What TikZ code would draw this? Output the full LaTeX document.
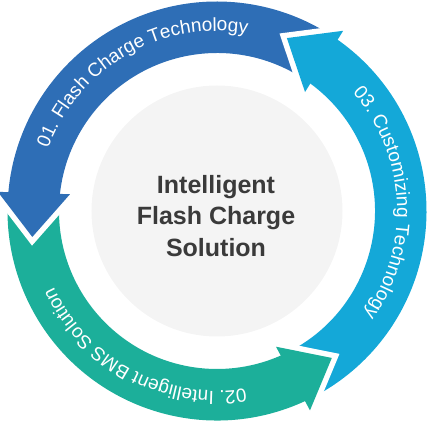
\documentclass[tikz,border=0pt]{standalone}
\usepackage{fontspec}
\setmainfont{Liberation Sans}
\usetikzlibrary{decorations.text}
\definecolor{cblue}{RGB}{46,110,182}
\definecolor{ccyan}{RGB}{20,168,216}
\definecolor{cgreen}{RGB}{28,175,154}
\definecolor{cgray}{RGB}{244,244,244}
\definecolor{ctext}{RGB}{58,58,58}
\newcommand{\bandfont}{\fontsize{19}{19}\selectfont}
\begin{document}
\begin{tikzpicture}[x=1pt,y=1pt,
  gapline/.style={white, line width=11pt, line join=miter, miter limit=10},
  bandtext/.style={decorate, decoration={text along path, text align=center, text color=white}}]
\useasboundingbox (-217,-211) rectangle (214,211);
% centre disc
\fill[cgray] (0,0) circle (125.5);
% bands
\fill[cblue]  (55.5:158) arc[start angle=55.5, end angle=175.5, radius=158] -- (175.5:209.5) arc[start angle=175.5, end angle=55.5, radius=209.5] -- cycle;
\fill[cgreen] (175.5:158) arc[start angle=175.5, end angle=295.5, radius=158] -- (295.5:209.5) arc[start angle=295.5, end angle=175.5, radius=209.5] -- cycle;
\fill[ccyan]  (-64.5:158) arc[start angle=-64.5, end angle=55.5, radius=158] -- (55.5:209.5) arc[start angle=55.5, end angle=-64.5, radius=209.5] -- cycle;
% arrow heads
\foreach \t/\c in {188/cblue, 308/cgreen, 68/ccyan} {
  \draw[gapline] ({\t-13}:220) -- (\t:186.5) -- ({\t-14.5}:148);
  \fill[\c] ({\t-13}:220) -- (\t:186.5) -- ({\t-14.5}:148) -- cycle;
}
% band texts
\path[bandtext, decoration={text={|\bandfont|01. Flash Charge Technology}}]
  (180:180) arc[start angle=180, end angle=60, radius=180];
\path[bandtext, decoration={text={|\bandfont|03. Customizing Technology}}]
  (63:180) arc[start angle=63, end angle=-57, radius=180];
\path[bandtext, decoration={text={|\bandfont|02. Intelligent BMS Solution}}]
  (302:180) arc[start angle=302, end angle=182, radius=180];
% centre title
\node[font=\fontsize{25}{31.5}\selectfont\bfseries, text=ctext, align=center, inner sep=0pt] (title) at (-1,-5) {Intelligent\\Flash Charge\\Solution};
\end{tikzpicture}
\end{document}
